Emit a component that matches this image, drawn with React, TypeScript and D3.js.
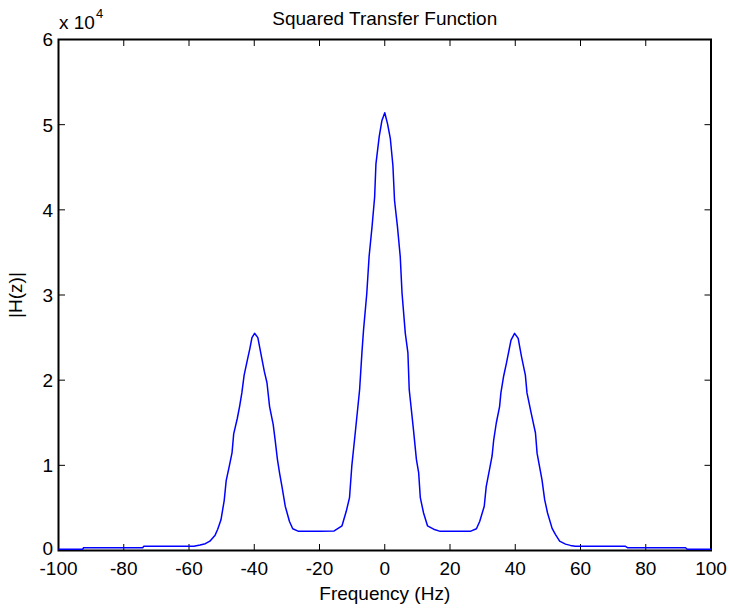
import React from "react";
import * as d3 from "d3";

const freqHz: number[] = [
  -100, -92.6, -92.3, -74.2, -73.9, -58.5, -56.6, -55, -53.6, -52, -51.2, -50.2, -49.2, -48.6, -47.6, -46.8, -46.3,
  -45.2, -44.5, -43.8, -43.1, -42.2, -41.3, -40.7, -39.9, -38.9, -37.7, -36.9, -36.1, -35.3, -34.2, -33.6, -32.9,
  -32.2, -31.5, -30.5, -29.2, -28.2, -26.4, -20, -15.5, -13.1, -11.8, -10.8, -10.1, -9.05, -7.7, -7.0, -6.5, -5.5,
  -4.8, -3.9, -3.1, -2.7, -1.7, -0.86, 0, 0.86, 1.7, 2.5, 3.0, 3.9, 4.75, 5.3, 6.3, 7.1, 7.5, 8.8, 9.7, 10.4, 10.9,
  11.9, 13.1, 15.0, 17.0, 26.2, 28.1, 29.1, 30.5, 31.1, 32.1, 32.9, 33.4, 34.2, 35.2, 35.6, 36.4, 37.3, 38.7, 39.8,
  40.9, 41.9, 43.1, 43.6, 44.9, 46.2, 46.7, 48.2, 49.0, 49.9, 51.3, 52.3, 53.6, 55.4, 56.9, 58.4, 73.8, 74.5, 92.2,
  92.7, 100,
];

const magnitude: number[] = [
  150, 150, 320, 320, 490, 490, 650, 800, 1100, 1800, 2500, 3600, 5900, 8200, 10000, 11500, 13700,
  15500, 16900, 18500, 20600, 22200, 23800, 25000, 25500, 25000, 22600, 21000, 19700, 16900, 14800, 13000, 10700,
  9000, 7500, 5200, 3400, 2550, 2250, 2250, 2300, 2900, 4600, 6200, 9900, 13800, 18900, 23200, 25900, 30200,
  34500, 38000, 41500, 45400, 48600, 50500, 51400, 50100, 48400, 45200, 41100, 38000, 34500, 30200, 25500, 23200, 18900, 14200, 10700, 9100, 6200,
  4400, 2900, 2500, 2250, 2250, 2550, 3400, 5200, 7500, 9500, 11100, 13000, 15000, 16900, 18500, 20400, 22000, 24700, 25500,
  24900, 22800, 20600, 18500, 16100, 13800, 11400, 8300, 6000, 4400, 2600, 1900, 1100, 750, 600, 490, 490, 320, 320,
  150, 150,
];

const xTicks: number[] = [-100, -80, -60, -40, -20, 0, 20, 40, 60, 80, 100];
const yTicks: number[] = [0, 1, 2, 3, 4, 5, 6];

const titleText = "Squared Transfer Function";
const xLabelText = "Frequency (Hz)";
const yLabelText = "|H(z)|";

export default function App() {
  const W = 730;
  const H = 610;
  const left = 58.5;
  const right = 711;
  const top = 39.5;
  const bottom = 550.5;
  const font = "'Liberation Sans', Arial, sans-serif";
  const fs = 19;
  const tickLen = 6.5;

  const x = d3.scaleLinear().domain([-100, 100]).range([left, right]);
  const y = d3.scaleLinear().domain([0, 60000]).range([bottom, top]);

  const line = d3
    .line<number>()
    .x((_, i) => x(freqHz[i]))
    .y((d) => y(d));

  const path = line(magnitude) || "";

  return (
    <svg
      width={W}
      height={H}
      style={{ position: "absolute", left: 0, top: 0, background: "#fff" }}
      fontFamily={font}
    >
      <rect x={0} y={0} width={W} height={H} fill="#fff" />
      {/* box */}
      <rect x={left} y={top} width={right - left} height={bottom - top} fill="none" stroke="#000" strokeWidth={2} />
      {/* x ticks */}
      {xTicks.map((t) => (
        <g key={"xt" + t}>
          <line x1={x(t)} x2={x(t)} y1={bottom} y2={bottom - tickLen} stroke="#000" strokeWidth={1} />
          <line x1={x(t)} x2={x(t)} y1={top} y2={top + tickLen} stroke="#000" strokeWidth={1} />
          <text x={x(t)} y={575} textAnchor="middle" fontSize={fs} fill="#000">
            {t}
          </text>
        </g>
      ))}
      {/* y ticks */}
      {yTicks.map((t) => (
        <g key={"yt" + t}>
          <line x1={left} x2={left + tickLen} y1={y(t * 10000)} y2={y(t * 10000)} stroke="#000" strokeWidth={1} />
          <line x1={right} x2={right - tickLen} y1={y(t * 10000)} y2={y(t * 10000)} stroke="#000" strokeWidth={1} />
          <text x={53} y={y(t * 10000)} dy={t === 0 ? "0.25em" : "0.36em"} textAnchor="end" fontSize={fs} fill="#000">
            {t}
          </text>
        </g>
      ))}
      <path d={path} fill="none" stroke="#0000ff" strokeWidth={1.5} strokeLinejoin="round" />
      {/* exponent */}
      <text x={59} y={29} fontSize={fs} fill="#000">
        x 10
      </text>
      <text x={96} y={18} fontSize={13} fill="#000">
        4
      </text>
      <text x={(left + right) / 2} y={25} textAnchor="middle" fontSize={fs} fill="#000">
        {titleText}
      </text>
      <text x={(left + right) / 2} y={600} textAnchor="middle" fontSize={fs} fill="#000">
        {xLabelText}
      </text>
      <text
        transform={`translate(22, ${(top + bottom) / 2}) rotate(-90)`}
        textAnchor="middle"
        fontSize={fs}
        fill="#000"
      >
        {yLabelText}
      </text>
    </svg>
  );
}
